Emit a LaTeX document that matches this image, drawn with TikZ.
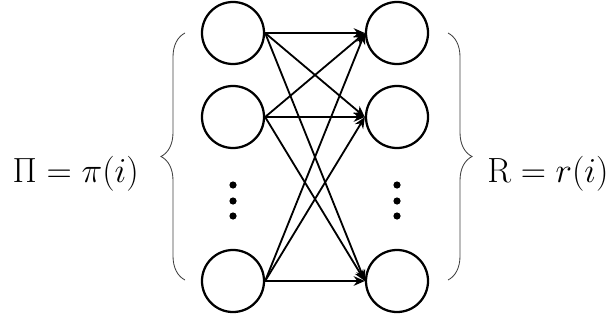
\documentclass[tikz,border=0pt]{standalone}
\usepackage{amsmath,amssymb}
\usepackage{xcolor}
\usepackage{tikz}
\usetikzlibrary{arrows.meta,positioning,calc,decorations.pathreplacing}

\begin{document}
\begin{tikzpicture}[
  x=0.025cm, y=-0.025cm,
  unit/.style={draw=black, circle, line width=1.6pt, minimum size=1.55cm, inner sep=0pt},
  dot/.style={circle, fill=black, minimum size=0.18cm, inner sep=0pt},
  arr/.style={-{Stealth[length=2.8mm, width=2.4mm]}, line width=1.3pt},
  brc/.style={decorate, decoration={brace, amplitude=0.6cm}, line width=0.6pt, black!75},
  lbl/.style={font=\fontsize{25}{30}\selectfont, inner sep=0pt},
]
\useasboundingbox (0,0) rectangle (616,322);
% input layer
\node[unit] (l1) at (233,33) {};
\node[unit] (l2) at (233,117) {};
\node[unit] (l3) at (233,281) {};
\node[dot] (ld1) at (233,185) {};
\node[dot] (ld2) at (233,201) {};
\node[dot] (ld3) at (233,216) {};
% output layer
\node[unit] (r1) at (397,33) {};
\node[unit] (r2) at (397,117) {};
\node[unit] (r3) at (397,281) {};
\node[dot] (rd1) at (397,185) {};
\node[dot] (rd2) at (397,201) {};
\node[dot] (rd3) at (397,216) {};
% connections
\draw[arr] (l1.east) -- (r1.west);
\draw[arr] (l1.east) -- (r2.west);
\draw[arr] (l1.east) -- (r3.west);
\draw[arr] (l2.east) -- (r1.west);
\draw[arr] (l2.east) -- (r2.west);
\draw[arr] (l2.east) -- (r3.west);
\draw[arr] (l3.east) -- (r1.west);
\draw[arr] (l3.east) -- (r2.west);
\draw[arr] (l3.east) -- (r3.west);
% braces and labels
\coordinate (lbT) at (185,33);
\coordinate (lbB) at (185,280);
\coordinate (rbT) at (448,33);
\coordinate (rbB) at (448,280);
\draw[brc] (lbB) -- (lbT);
\draw[brc] (rbT) -- (rbB);
\node[lbl, anchor=base east] (piLbl) at (139,182) {$\Pi = \pi(i)$};
\node[lbl, anchor=base west] (rLbl) at (487,182) {$\mathrm{R} = r(i)$};
\end{tikzpicture}
\end{document}
